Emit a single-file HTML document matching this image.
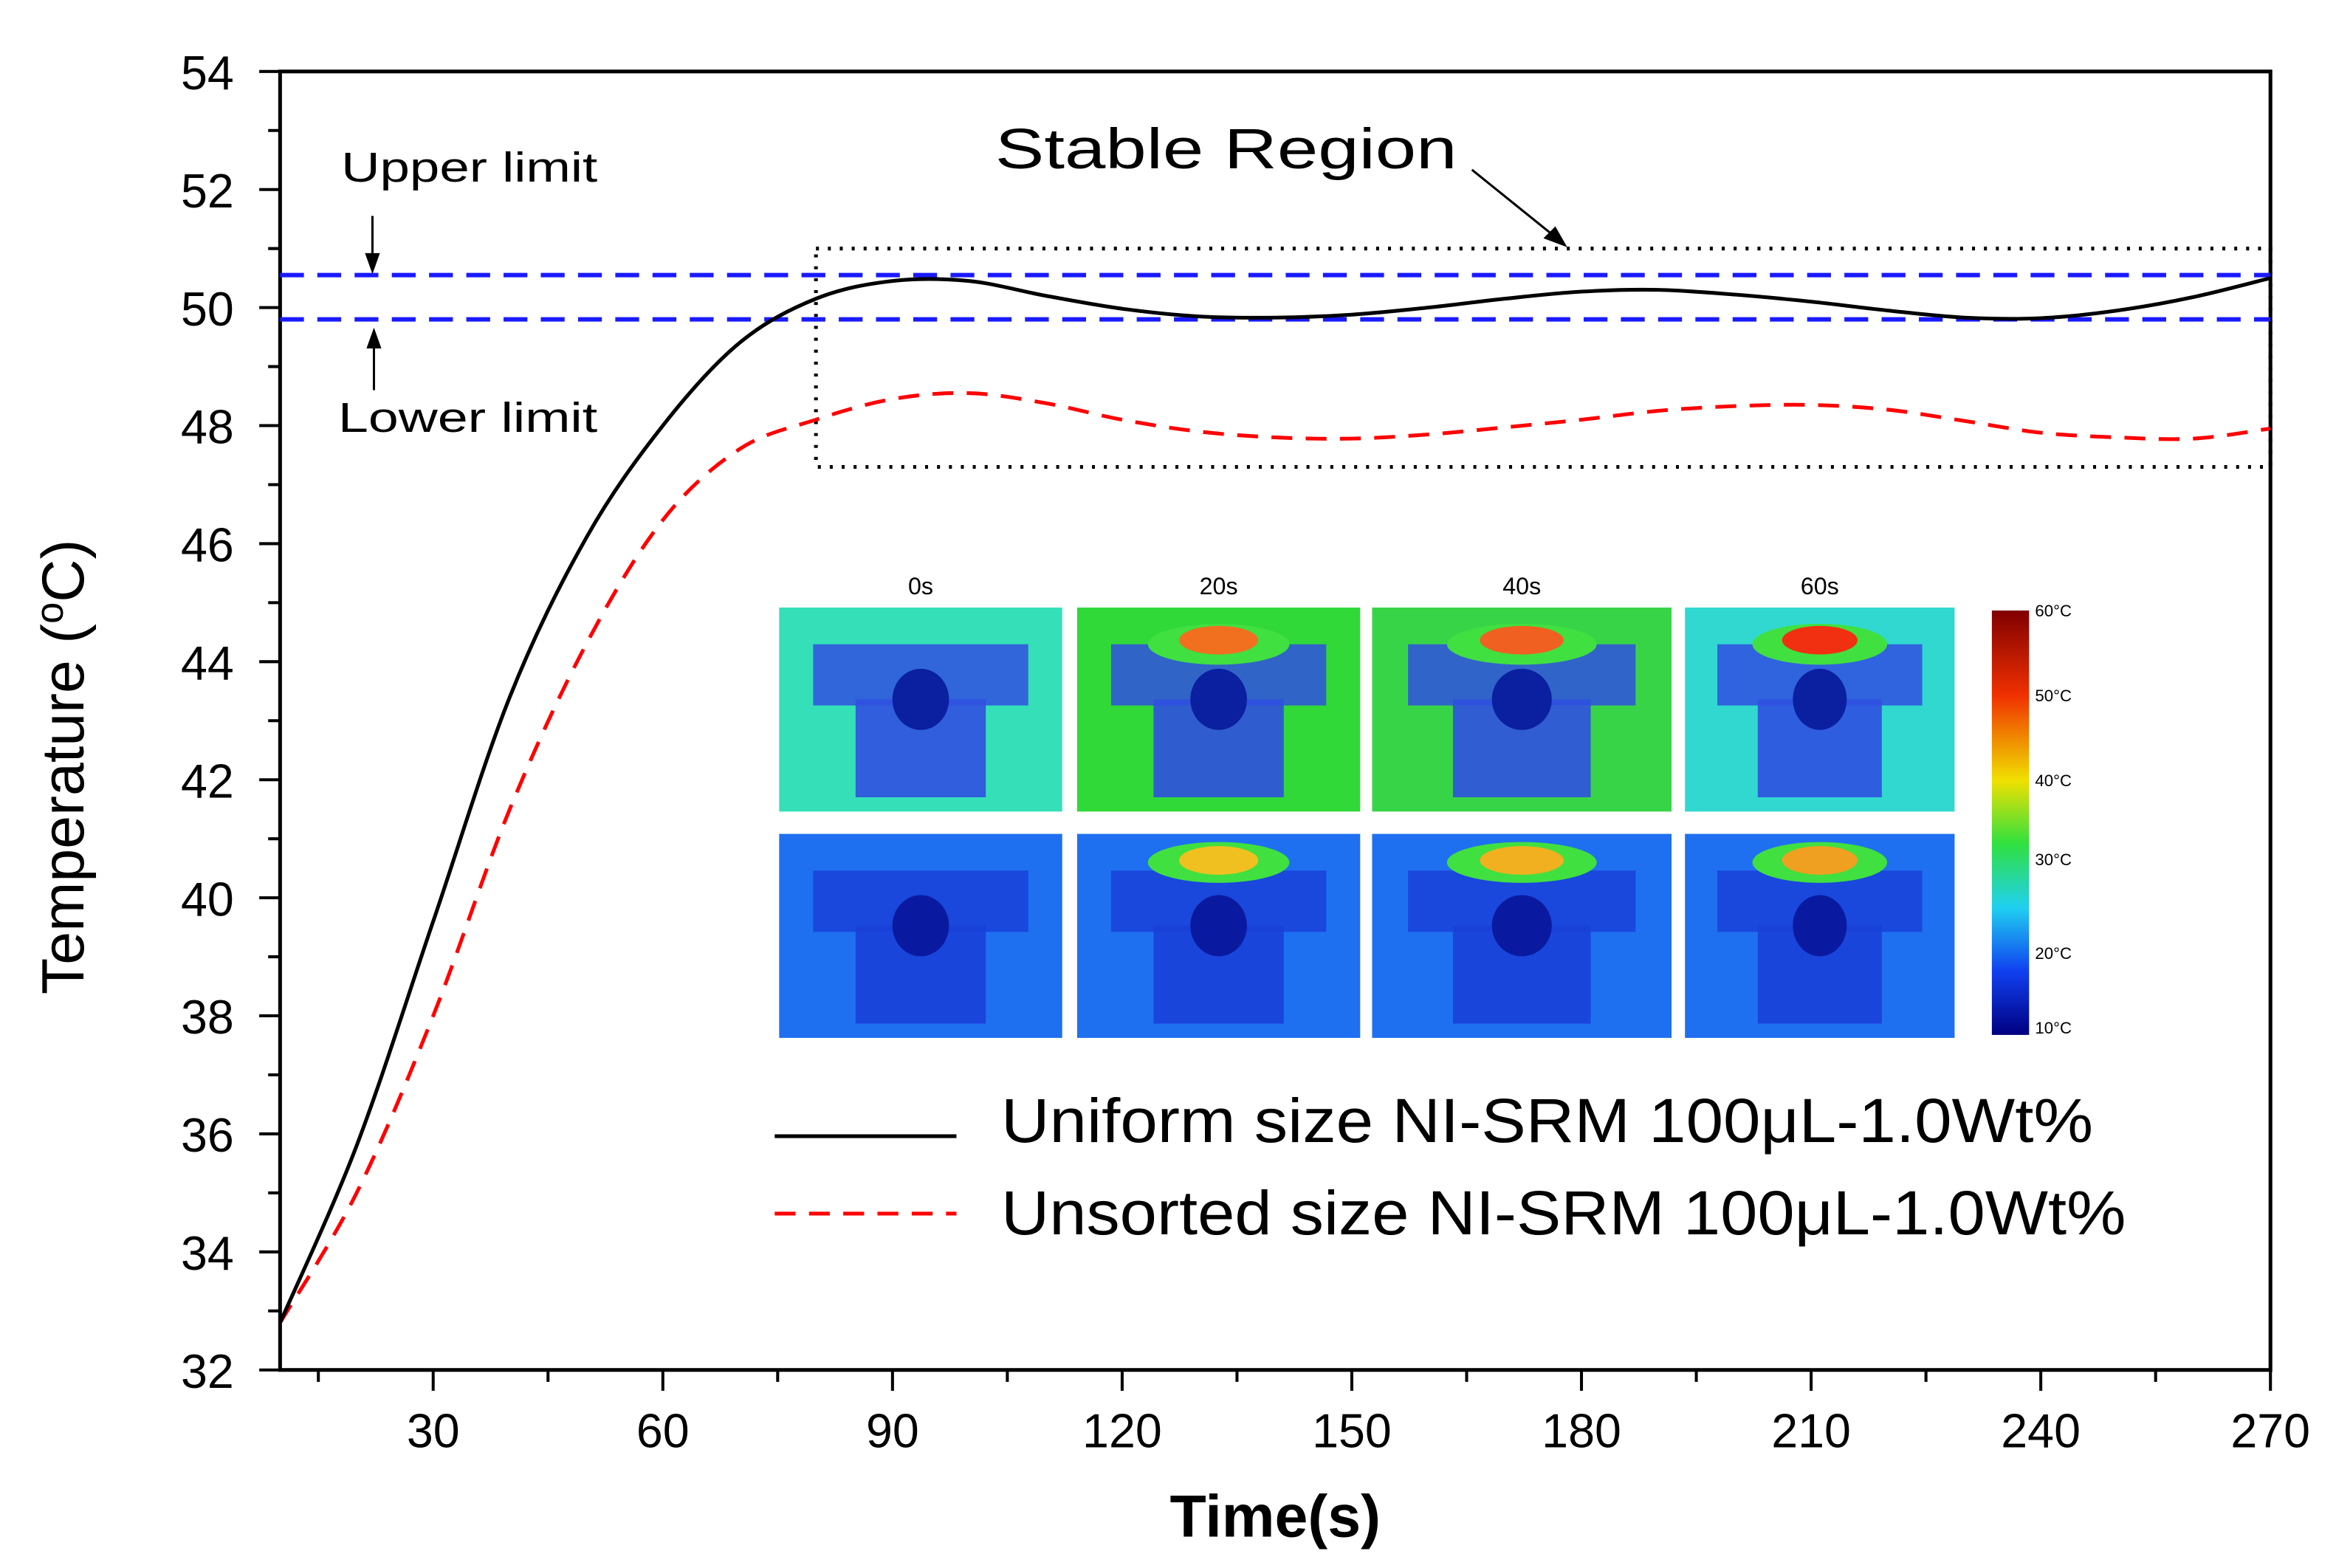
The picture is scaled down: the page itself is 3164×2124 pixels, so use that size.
<!DOCTYPE html>
<html><head><meta charset="utf-8"><style>
html,body{margin:0;padding:0;background:#fff}
svg{display:block}
text{font-family:"Liberation Sans",sans-serif}
</style></head><body>
<svg id="chart" width="3164" height="2124" viewBox="0 0 1568 1053" preserveAspectRatio="none" xmlns="http://www.w3.org/2000/svg">
<rect width="1568" height="1053" fill="#fff"/>
<g id="axes"></g>
<g id="inset"></g>
<g id="series"></g>
<text transform="translate(56,515) rotate(-90)" text-anchor="middle" font-size="40" fill="#000">Temperature (<tspan font-size="26" dy="-14">o</tspan><tspan dy="14">C)</tspan></text>
<text x="856" y="1032" text-anchor="middle" font-size="40" font-weight="bold" fill="#000">Time(s)</text>
<text x="668" y="113" font-size="38" textLength="310" lengthAdjust="spacingAndGlyphs" fill="#000">Stable Region</text>
<line x1="988" y1="114" x2="1050" y2="164" stroke="#000" stroke-width="1.5"/>
<polygon points="1052,166 1036,160 1044,152" fill="#000"/>
<text x="229" y="122" font-size="28" textLength="172" lengthAdjust="spacingAndGlyphs" fill="#000">Upper limit</text>
<text x="227" y="290" font-size="28" textLength="174" lengthAdjust="spacingAndGlyphs" fill="#000">Lower limit</text>
<line x1="250" y1="145" x2="250" y2="180" stroke="#000" stroke-width="1.5"/>
<polygon points="250,184 245,170 255,170" fill="#000"/>
<line x1="251" y1="262" x2="251" y2="225" stroke="#000" stroke-width="1.5"/>
<polygon points="251,220 246,234 256,234" fill="#000"/>
</svg>
<script>
const times=[10,20,30,40,50,60,70,80,90,100,110,120,130,140,150,160,170,180,190,200,210,220,230,240,250,260,270];
const uniformTemps=[32.8,35.8,39.6,43.4,46.1,48.0,49.4,50.15,50.45,50.45,50.2,49.98,49.85,49.83,49.88,50.0,50.15,50.27,50.3,50.22,50.1,49.95,49.83,49.82,49.95,50.18,50.5];
const unsortedTemps=[32.8,35.0,38.0,41.5,44.3,46.4,47.6,48.1,48.45,48.55,48.38,48.1,47.9,47.8,47.78,47.85,47.97,48.1,48.25,48.33,48.35,48.27,48.08,47.88,47.8,47.78,47.95];
const yTicks=[32,34,36,38,40,42,44,46,48,50,52,54];
const xTicks=[30,60,90,120,150,180,210,240,270];
const limits=[50.55,49.8];
const stableBox=[80,270,47.3,51.0];
const NS='http://www.w3.org/2000/svg';
const X0=188,X1=1524,Y0=920,Y1=48;
function xs(t){return X0+(t-10)*(X1-X0)/260;}
function ys(v){return Y0-(v-32)*(Y0-Y1)/22;}
function mk(tag,attrs,parent){const e=document.createElementNS(NS,tag);for(const k in attrs)e.setAttribute(k,attrs[k]);parent.appendChild(e);return e;}
const ax=document.getElementById('axes');
const frame=mk('rect',{x:X0,y:Y1,width:X1-X0,height:Y0-Y1,fill:'none',stroke:'#000','stroke-width':2.5},ax);


for(let v=32;v<=54;v+=1){const major=v%2===0;const l=mk('line',{x1:X0-(major?14:8),x2:X0,y1:ys(v),y2:ys(v),stroke:'#000','stroke-width':2},ax);

}
yTicks.forEach(v=>{const t=mk('text',{x:157,y:ys(v)+12,'text-anchor':'end','font-size':32},ax);t.textContent=v;

});
for(let t=15;t<=270;t+=15){const major=t%30===0;const l=mk('line',{x1:xs(t),x2:xs(t),y1:Y0,y2:Y0+(major?14:8),stroke:'#000','stroke-width':2},ax);

}
xTicks.forEach(v=>{const t=mk('text',{x:xs(v),y:972,'text-anchor':'middle','font-size':32},ax);t.textContent=v;

});
const ins=document.getElementById('inset');
mk('rect',{x:493,y:380,width:1002,height:520,fill:'#fff'},ins);
const cols=[[523,190],[723,190],[921,201],[1131,181]];
const labels=['0s','20s','40s','60s'];
const topBg=['#35e0b8','#30d838','#38d448','#30d8d0'];
const hot1=[null,'#f07020','#f06020','#f03010'];
const hot2=[null,'#f0c020','#f0b020','#f0a020'];
cols.forEach((c,i)=>{
 const lb=mk('text',{x:c[0]+c[1]/2,y:399,'text-anchor':'middle','font-size':16},ins);lb.textContent=labels[i];
 
 
 [[408,137,topBg[i],hot1[i],'#3050e0','#0a20a0'],[560,137,'#1e70f0',hot2[i],'#1a40d8','#0a1aa0']].forEach((r,j)=>{
  const g=mk('g',{},ins);
  
  
  const w=c[1],x=c[0],y=r[0],h=r[1];
  mk('rect',{x:x,y:y,width:w,height:h,fill:r[2]},g);
  mk('rect',{x:x+w*0.12,y:y+h*0.18,width:w*0.76,height:h*0.3,fill:r[4],opacity:0.85},g);
  mk('rect',{x:x+w*0.27,y:y+h*0.45,width:w*0.46,height:h*0.48,fill:r[4],opacity:0.9},g);
  mk('ellipse',{cx:x+w*0.5,cy:y+h*0.45,rx:w*0.1,ry:h*0.15,fill:r[5]},g);
  if(r[3]){mk('ellipse',{cx:x+w*0.5,cy:y+h*(j?0.14:0.18),rx:w*0.25,ry:h*0.1,fill:'#40e040'},g);
   mk('ellipse',{cx:x+w*0.5,cy:y+h*(j?0.13:0.16),rx:w*0.14,ry:h*0.07,fill:r[3]},g);}
 });
});
const defs=mk('defs',{},ins);
const lg=mk('linearGradient',{id:'cbar',x1:0,y1:0,x2:0,y2:1},defs);
[['0','#800000'],['0.2','#f03000'],['0.4','#f0e000'],['0.55','#30e040'],['0.7','#20d0f0'],['0.85','#1040f0'],['1','#000080']].forEach(s=>mk('stop',{offset:s[0],'stop-color':s[1]},lg));
const cb=mk('rect',{x:1337,y:410,width:25,height:285,fill:'url(#cbar)'},ins);


[['60\u00b0C',414],['50\u00b0C',471],['40\u00b0C',528],['30\u00b0C',581],['20\u00b0C',644],['10\u00b0C',694]].forEach(a=>{const t=mk('text',{x:1366,y:a[1],'font-size':11},ins);t.textContent=a[0];

});
const l1=mk('line',{x1:520,x2:642,y1:763,y2:763,stroke:'#000','stroke-width':2.5},ins);


const l2=mk('line',{x1:520,x2:642,y1:815,y2:815,stroke:'#f00','stroke-width':2.5,'stroke-dasharray':'14 9'},ins);


const t1=mk('text',{x:672,y:767,'font-size':42,textLength:733,lengthAdjust:'spacingAndGlyphs'},ins);t1.textContent='Uniform size NI-SRM 100\u03bcL-1.0Wt%';


const t2=mk('text',{x:672,y:829,'font-size':42,textLength:755,lengthAdjust:'spacingAndGlyphs'},ins);t2.textContent='Unsorted size NI-SRM 100\u03bcL-1.0Wt%';


const se=document.getElementById('series');
const box=mk('rect',{x:xs(stableBox[0]),y:ys(stableBox[3]),width:xs(stableBox[1])-xs(stableBox[0]),height:ys(stableBox[2])-ys(stableBox[3]),fill:'none',stroke:'#000','stroke-width':2.5,'stroke-dasharray':'2 6'},se);


limits.forEach((v,i)=>{const l=mk('line',{x1:X0,x2:X1,y1:ys(v),y2:ys(v),stroke:'#1a1aff','stroke-width':3,'stroke-dasharray':'16 9'},se);

});
function smooth(vals){const p=times.map((t,i)=>[xs(t),ys(vals[i])]);let d='M'+p[0][0]+','+p[0][1];
for(let i=0;i<p.length-1;i++){const a=p[Math.max(0,i-1)],b=p[i],c=p[i+1],e=p[Math.min(p.length-1,i+2)];
d+=' C'+(b[0]+(c[0]-a[0])/6)+','+(b[1]+(c[1]-a[1])/6)+' '+(c[0]-(e[0]-b[0])/6)+','+(c[1]-(e[1]-b[1])/6)+' '+c[0]+','+c[1];}return d;}
const pr=mk('path',{d:smooth(unsortedTemps),fill:'none',stroke:'#f00','stroke-width':2.5,'stroke-dasharray':'14 9'},se);


const pb=mk('path',{d:smooth(uniformTemps),fill:'none',stroke:'#000','stroke-width':2.5},se);


</script>
</body></html>
